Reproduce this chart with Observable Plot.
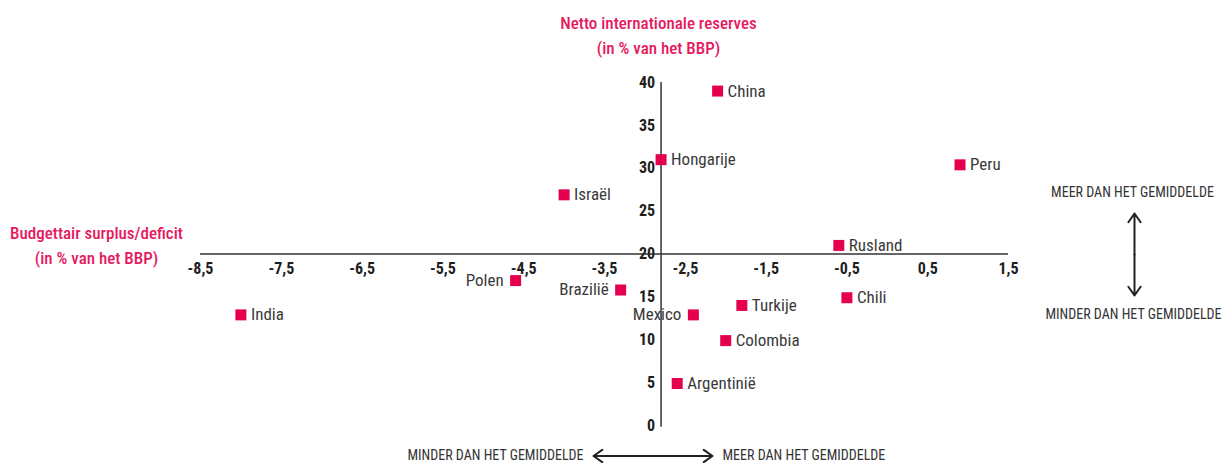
<!DOCTYPE html>
<html>
<head>
<meta charset="utf-8">
<script src="https://cdn.jsdelivr.net/npm/d3@7"></script>
<script src="https://cdn.jsdelivr.net/npm/@observablehq/plot@0.6"></script>
<style>
  html, body { margin: 0; padding: 0; background: #fff; }
  #chart svg { display: block; }
</style>
</head>
<body>
<div id="chart"></div>
<script>
// ---- data ----
const countries = ["China", "Hongarije", "Peru", "Israël", "Rusland", "Chili", "Turkije", "Mexico", "Colombia", "Argentinië", "Brazilië", "Polen", "India"];
const budget    = [-2.1, -2.8, 0.9, -4.0, -0.6, -0.5, -1.8, -2.4, -2.0, -2.6, -3.3, -4.6, -8.0];
const reserves  = [39.0, 31.0, 30.4, 26.9, 21.0, 14.9, 14.0, 12.9, 9.9, 4.9, 15.8, 16.9, 12.9];
const labelLeft = ["Mexico", "Brazilië", "Polen"];
const xTicks = [-8.5, -7.5, -6.5, -5.5, -4.5, -3.5, -2.5, -1.5, -0.5, 0.5, 1.5];
const yTicks = [0, 5, 10, 15, 20, 25, 30, 35, 40];
const xCross = -2.8;   // average budget balance (vertical axis position)
const yCross = 20;     // average reserves (horizontal axis position)
const yTitle = "Netto internationale reserves\n(in % van het BBP)";
const xTitle = "Budgettair surplus/deficit\n(in % van het BBP)";
const more = "MEER DAN HET GEMIDDELDE";
const less = "MINDER DAN HET GEMIDDELDE";

const pts = countries.map((c, i) => ({country: c, x: budget[i], y: reserves[i], left: labelLeft.includes(c)}));

const FONT = "'Roboto Condensed', Roboto, sans-serif";
const PINK = "#e6195e";
const MARK = "#e4004f";
const fmt = v => String(v).replace(".", ",");

// scale layout
const X_DOMAIN = [-8.5, 1.5], X_RANGE = [200, 1008];
const Y_DOMAIN = [0, 40], Y_RANGE = [425, 82];
// helpers to place annotations at page pixels through the same scales
const px2x = p => X_DOMAIN[0] + (p - X_RANGE[0]) * (X_DOMAIN[1] - X_DOMAIN[0]) / (X_RANGE[1] - X_RANGE[0]);
const px2y = p => Y_DOMAIN[0] + (p - Y_RANGE[0]) * (Y_DOMAIN[1] - Y_DOMAIN[0]) / (Y_RANGE[1] - Y_RANGE[0]);

const note = (txt, px, py, opts) => Plot.text([txt], {x: () => px2x(px), y: () => px2y(py), text: d => d, ...opts});

const arrowOpts = {stroke: "#222", strokeWidth: 2, headLength: 8, headAngle: 70};
const vMid = 254, hMid = 652;

const chart = Plot.plot({
  width: 1223,
  height: 463,
  margin: 0,
  x: {domain: X_DOMAIN, range: X_RANGE},
  y: {domain: Y_DOMAIN, range: Y_RANGE},
  axis: null,
  style: {fontFamily: FONT, background: "#fff", overflow: "visible"},
  marks: [
    // axes lines
    Plot.ruleY([yCross], {x1: -8.5, x2: 1.5, stroke: "#333", strokeWidth: 1.5}),
    Plot.ruleX([xCross], {y1: -0.2, y2: 40, stroke: "#333", strokeWidth: 1.5}),
    // tick labels
    Plot.text(xTicks, {x: d => d, y: () => yCross, dy: 15, text: fmt, fontSize: 16, fontWeight: "bold", fill: "#1e1e1e"}),
    Plot.text(yTicks, {x: () => xCross, y: d => d, dx: -6, textAnchor: "end", text: fmt, fontSize: 16, fontWeight: "bold", fill: "#1e1e1e"}),
    // points
    Plot.dot(pts, {x: "x", y: "y", symbol: "square", r: 6.2, fill: MARK, stroke: "none"}),
    Plot.text(pts.filter(d => !d.left), {x: "x", y: "y", text: "country", dx: 10, textAnchor: "start", fontSize: 17, fill: "#3a3a3a"}),
    Plot.text(pts.filter(d => d.left), {x: "x", y: "y", text: "country", dx: -12, textAnchor: "end", fontSize: 17, fill: "#3a3a3a"}),
    // titles
    note(yTitle, 658, 53, {fontSize: 17, fill: PINK, lineHeight: 1.47, textAnchor: "middle", lineAnchor: "bottom", fontWeight: 500}),
    note(xTitle, 96, 263, {fontSize: 17, fill: PINK, lineHeight: 1.42, textAnchor: "middle", lineAnchor: "bottom", fontWeight: 500}),
    // right annotation
    note(more, 1132, 196, {fontSize: 14, fill: "#333", textAnchor: "middle", lineAnchor: "bottom"}),
    note(less, 1133, 318, {fontSize: 14, fill: "#333", textAnchor: "middle", lineAnchor: "bottom"}),
    Plot.arrow([{a: vMid, b: 213}, {a: vMid, b: 295}], {x1: () => px2x(1134), x2: () => px2x(1134), y1: d => px2y(d.a), y2: d => px2y(d.b), ...arrowOpts}),
    // bottom annotation
    note(less, 583, 459.5, {fontSize: 14, fill: "#333", textAnchor: "end", lineAnchor: "bottom"}),
    note(more, 722, 459.5, {fontSize: 14, fill: "#333", textAnchor: "start", lineAnchor: "bottom"}),
    Plot.arrow([{a: hMid, b: 593}, {a: hMid, b: 712}], {y1: () => px2y(455.5), y2: () => px2y(455.5), x1: d => px2x(d.a), x2: d => px2x(d.b), ...arrowOpts})
  ]
});
document.getElementById("chart").append(chart);
</script>
</body>
</html>
